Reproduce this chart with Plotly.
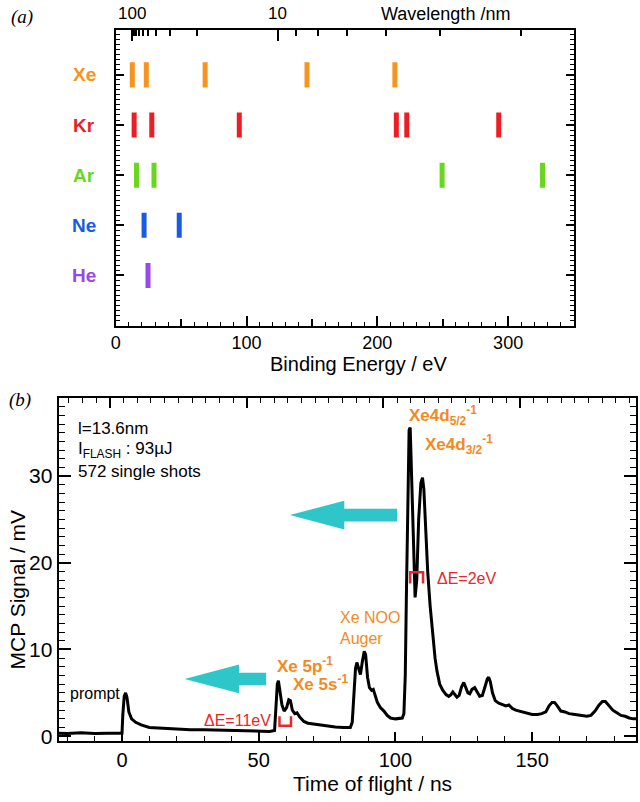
import plotly.graph_objects as go

W, H = 640, 802

# ---------------- Panel (a) data ----------------
elements = ["Xe", "Kr", "Ar", "Ne", "He"]
element_rows = [5, 4, 3, 2, 1]
xe_energies = [12.6, 23.3, 68.3, 146.2, 213.4]
kr_energies = [14.0, 27.5, 94.4, 214.5, 222.5, 292.8]
ar_energies = [15.8, 29.2, 249.5, 326.3]
ne_energies = [21.6, 48.5]
he_energies = [24.6]
energy_lists = [xe_energies, kr_energies, ar_energies, ne_energies, he_energies]
element_colors = ["#F7931E", "#EE1D23", "#6AD61E", "#1A5BE6", "#9A48EC"]

wavelength_major = [100, 10]
wavelength_major_text = ["100", "10"]
wavelength_minor = [90, 80, 70, 60, 50, 40, 30, 20, 9, 8, 7, 6, 5, 4]
HC = 1239.84  # eV*nm

# ---------------- Panel (b) data ----------------
tof_ns = [-23.2, -20, -15, -10, -5, 0.0, 0.3, 0.8, 1.3, 1.8, 2.5, 3.5, 5, 7, 10, 15, 20, 25, 30, 35,
          40, 45, 50, 54, 55.8, 56.3, 56.8, 57.2, 57.7, 58.5, 59.3, 60.2, 61.0, 61.6, 62.3, 63.2,
          64.0, 65.0, 66.5, 68, 70, 72, 75, 78, 81, 83.5, 84.2, 84.8, 85.4, 85.9, 86.5, 87.2,
          87.9, 88.6, 89.1, 89.8, 90.5, 91.3, 91.9, 92.6, 93.4, 94.5, 95.8, 97, 98.2, 100, 101.5,
          102.5, 103.1, 103.6, 104.0, 104.5, 105.0, 105.4, 105.9, 106.5, 107.2, 107.8, 108.5,
          109.3, 109.9, 110.4, 111.0, 111.8, 112.7, 113.6, 114.5, 115.2, 116.2, 117.3, 118.5,
          119.5, 120.3, 121.0, 121.6, 122.5, 123.3, 124.2, 125.0, 125.6, 126.5, 127.2, 128.0,
          129.0, 129.8, 130.8, 131.8, 132.8, 133.6, 134.1, 134.7, 135.5, 136.5, 137.8, 139.3,
          140.4, 141.5, 142.8, 144, 145.2, 146.5, 148, 150, 152, 153.5, 155, 156.2, 157.3, 158.2,
          159.2, 160.5, 162, 163.5, 165.7, 168, 170, 171.5, 173, 174.5, 175.7, 176.8, 178, 179.5,
          181, 182.5, 184, 185.5, 187, 188]
mcp_mV = [0.35, 0.3, 0.4, 0.3, 0.35, 0.35, 2.5, 4.6, 5.0, 4.5, 2.8, 2.0, 1.6, 1.3, 1.0, 0.9, 0.85,
          0.75, 0.75, 0.7, 0.65, 0.6, 0.6, 0.55, 0.65, 3.5, 6.0, 6.4, 5.5, 3.6, 2.9, 3.3, 4.2, 4.1,
          3.0, 2.6, 2.7, 2.2, 1.7, 1.5, 1.4, 1.3, 1.2, 1.05, 1.0, 1.0, 1.6, 4.5, 7.8, 8.5, 7.8, 7.1,
          8.6, 9.8, 9.4, 6.8, 5.6, 5.3, 5.4, 4.6, 3.9, 3.3, 2.9, 2.4, 2.1, 2.0, 2.1, 2.1, 2.6, 7.0,
          16.0, 28.0, 35.3, 35.6, 30.0, 21.0, 16.0, 18.0, 25.0, 29.2, 29.8, 28.5, 24.0, 19.0, 15.0,
          11.5, 9.0, 7.5, 6.0, 5.3, 4.8, 4.6, 4.8, 5.1, 4.9, 4.5, 4.7, 5.7, 6.2, 5.8, 5.0, 4.9, 5.4,
          5.6, 5.2, 4.6, 4.7, 5.8, 6.6, 6.8, 6.3, 5.0, 4.1, 3.8, 3.6, 3.5, 3.6, 3.2, 3.0, 2.9, 2.8,
          2.6, 2.5, 2.5, 2.6, 2.8, 3.5, 3.9, 3.9, 3.5, 2.9, 2.8, 2.6, 2.5, 2.4, 2.3, 2.4, 2.9, 3.6,
          4.0, 4.0, 3.6, 3.0, 2.7, 2.4, 2.3, 2.1, 2.0, 2.0]

FONT = "Liberation Sans, Arial, sans-serif"
SERIF = "Liberation Serif, Times New Roman, serif"
ORANGE = "#F28A1E"
RED = "#E8262B"
CYAN = "#2EC6C8"


def px_x(px):
    return px / W


def px_y(py):
    return 1 - py / H


fig = go.Figure()

# Panel (a) bars
BAR_HALF = 0.25
for name, row, energies, col in zip(elements, element_rows, energy_lists, element_colors):
    xs, ys = [], []
    for e in energies:
        xs += [e, e, None]
        ys += [row - BAR_HALF, row + BAR_HALF, None]
    fig.add_trace(go.Scatter(x=xs, y=ys, mode="lines", line=dict(color=col, width=5),
                             xaxis="x", yaxis="y", showlegend=False, hoverinfo="skip"))

# Panel (b) spectrum
fig.add_trace(go.Scatter(x=tof_ns, y=mcp_mV, mode="lines", line=dict(color="black", width=3),
                         xaxis="x3", yaxis="y2", showlegend=False, hoverinfo="skip"))

# empty placeholder traces so that the extra tick axes get their own subplots
for xa, ya in [("x2", "y"), ("x5", "y"), ("x6", "y"), ("x4", "y2")]:
    fig.add_trace(go.Scatter(x=[None], y=[None], mode="lines", xaxis=xa, yaxis=ya,
                             showlegend=False, hoverinfo="skip"))

ax_common = dict(showgrid=False, zeroline=False, showline=True, linecolor="black", linewidth=2,
                 tickcolor="black", tickwidth=1.5)
ax_ticks_only = dict(showgrid=False, zeroline=False, showline=False, tickcolor="black",
                     tickwidth=1.5, showticklabels=False)

A_X = [px_x(111.7), px_x(573)]
A_Y = [px_y(328), px_y(30)]
B_X = [px_x(54), px_x(636)]
B_Y = [px_y(747), px_y(401)]

fig.update_layout(
    width=W, height=H, margin=dict(l=0, r=0, t=0, b=0),
    paper_bgcolor="white", plot_bgcolor="rgba(0,0,0,0)",
    font=dict(family=FONT, color="black"),
    # ---- panel (a): energy axis (bottom)
    xaxis=dict(**ax_common, domain=A_X, anchor="y", range=[0, 350], ticks="inside",
               tickmode="linear", tick0=0, dtick=100, ticklen=10,
               minor=dict(ticks="inside", dtick=10, ticklen=4, tickwidth=1.2,
                          tickcolor="black"),
               tickfont=dict(size=18), mirror=True),
    yaxis=dict(**ax_common, domain=A_Y, anchor="x", range=[0, 5.9], ticks="inside",
               tickmode="linear", tick0=0, dtick=1, ticklen=8, showticklabels=False,
               minor=dict(ticks="inside", dtick=0.1, ticklen=4, tickwidth=1.2,
                          tickcolor="black"),
               mirror="ticks"),
    # wavelength axis (top of panel a)
    xaxis2=dict(**ax_common, domain=A_X, anchor="y", side="top", range=[0, 350],
                ticks="inside", tickmode="array",
                tickvals=[HC / w for w in wavelength_major], ticklen=11,
                showticklabels=False),
    xaxis6=dict(**ax_ticks_only, domain=A_X, anchor="y", side="top", range=[0, 350],
                ticks="inside", tickmode="array",
                tickvals=[HC / w for w in wavelength_minor], ticklen=6),
    # medium ticks every 50 eV (bottom of panel a)
    xaxis5=dict(**ax_ticks_only, domain=A_X, anchor="y", side="bottom", range=[0, 350],
                ticks="inside", tickmode="array", tickvals=[50, 150, 250], ticklen=7),
    # ---- panel (b)
    xaxis3=dict(**ax_common, domain=B_X, anchor="y2", range=[-23.2, 188], ticks="inside",
                tickmode="linear", tick0=0, dtick=50, ticklen=9,
                minor=dict(ticks="inside", dtick=10, ticklen=5, tickwidth=1.2,
                           tickcolor="black"),
                tickfont=dict(size=20), mirror=True),
    yaxis2=dict(**ax_common, domain=B_Y, anchor="x3", range=[-0.6, 39], ticks="inside",
                tickmode="linear", tick0=0, dtick=10, ticklen=12,
                minor=dict(ticks="inside", dtick=1, ticklen=6, tickwidth=1.2,
                           tickcolor="black"),
                tickfont=dict(size=21), mirror="ticks"),
    # top axis of panel (b) (offset ticks)
    xaxis4=dict(**ax_common, domain=B_X, anchor="y2", side="top", range=[-18.8, 192.4],
                ticks="inside", tickmode="linear", tick0=0, dtick=50, ticklen=10,
                minor=dict(ticks="inside", dtick=5, ticklen=5, tickwidth=1.2,
                           tickcolor="black"),
                showticklabels=False),
)

ann = []
for name, row, col in zip(elements, element_rows, element_colors):
    ann.append(dict(x=px_x(80), y=row, xref="paper", yref="y", text=f"<b>{name}</b>",
                    showarrow=False, xanchor="center", yanchor="middle",
                    font=dict(size=19, color=col, family=FONT)))

# wavelength tick labels on top of panel (a)
for w, txt in zip(wavelength_major, wavelength_major_text):
    ann.append(dict(x=HC / w, y=px_y(14), xref="x", yref="paper", text=txt, showarrow=False,
                    xanchor="center", yanchor="middle", font=dict(size=17)))


def paper_text(text, px, py, size, xanchor="center", angle=0, family=FONT, color="black"):
    ann.append(dict(x=px_x(px), y=px_y(py), xref="paper", yref="paper", text=text,
                    showarrow=False, xanchor=xanchor, yanchor="middle", textangle=angle,
                    font=dict(size=size, family=family, color=color)))


paper_text("Binding Energy / eV", 356.7, 366.7, 20)
paper_text("Wavelength /nm", 444, 14, 18)
paper_text("<i>(a)</i>", 4, 17, 19, xanchor="left", family=SERIF)
paper_text("<i>(b)</i>", 2, 403, 19, xanchor="left", family=SERIF)
paper_text("Time of flight / ns", 370, 789, 21)
paper_text("MCP Signal / mV", 13, 594, 21, angle=-90)


def data_text(text, x, y, size, color="black", xanchor="left", align="left"):
    ann.append(dict(x=x, y=y, xref="x3", yref="y2", text=text, showarrow=False,
                    xanchor=xanchor, yanchor="middle", align=align,
                    font=dict(size=size, color=color)))


info = ["l=13.6nm", "I<sub>FLASH</sub> : 93µJ", "572 single shots"]
for txt, s in zip(info, [35.5, 33.0, 30.5]):
    data_text(txt, -16.8, s, 17)
data_text("prompt", 0.0, 4.9, 16, xanchor="right")
data_text("<b>Xe 5p<sup>-1</sup></b>", 56.0, 8.2, 17, ORANGE)
data_text("<b>Xe 5s<sup>-1</sup></b>", 61.7, 6.1, 17, ORANGE)
data_text("Xe NOO<br>Auger", 79.0, 12.45, 16, ORANGE)
data_text("<b>Xe4d<sub>5/2</sub><sup>-1</sup></b>", 104.3, 37.0, 17, ORANGE)
data_text("<b>Xe4d<sub>3/2</sub><sup>-1</sup></b>", 110.1, 33.6, 17, ORANGE)
data_text("ΔE=2eV", 114.5, 18.2, 16, RED)
data_text("ΔE=11eV", 55.4, 1.8, 16, RED, xanchor="right")
fig.update_layout(annotations=ann)


def arrow_path(tip, base, tail, yc, hh, sh):
    return (f"M {tip},{yc} L {base},{yc + hh} L {base},{yc + sh} L {tail},{yc + sh} "
            f"L {tail},{yc - sh} L {base},{yc - sh} L {base},{yc - hh} Z")


shapes = [
    dict(type="path", xref="x3", yref="y2", path=arrow_path(61.4, 81.3, 100.6, 25.5, 1.66, 0.73),
         fillcolor=CYAN, line=dict(width=0)),
    dict(type="path", xref="x3", yref="y2", path=arrow_path(22.9, 42.8, 52.7, 6.6, 1.66, 0.73),
         fillcolor=CYAN, line=dict(width=0)),
    dict(type="path", xref="x3", yref="y2",
         path="M 105.4,17.6 L 105.4,18.9 L 110.1,18.9 L 110.1,17.6",
         line=dict(color=RED, width=2.5)),
    dict(type="path", xref="x3", yref="y2",
         path="M 57.6,2.3 L 57.6,1.2 L 61.8,1.2 L 61.8,2.3",
         line=dict(color=RED, width=2.5)),
]
fig.update_layout(shapes=shapes)

fig.write_html("out.html", config={"displayModeBar": False},
               post_script="document.body.style.margin='0';")
